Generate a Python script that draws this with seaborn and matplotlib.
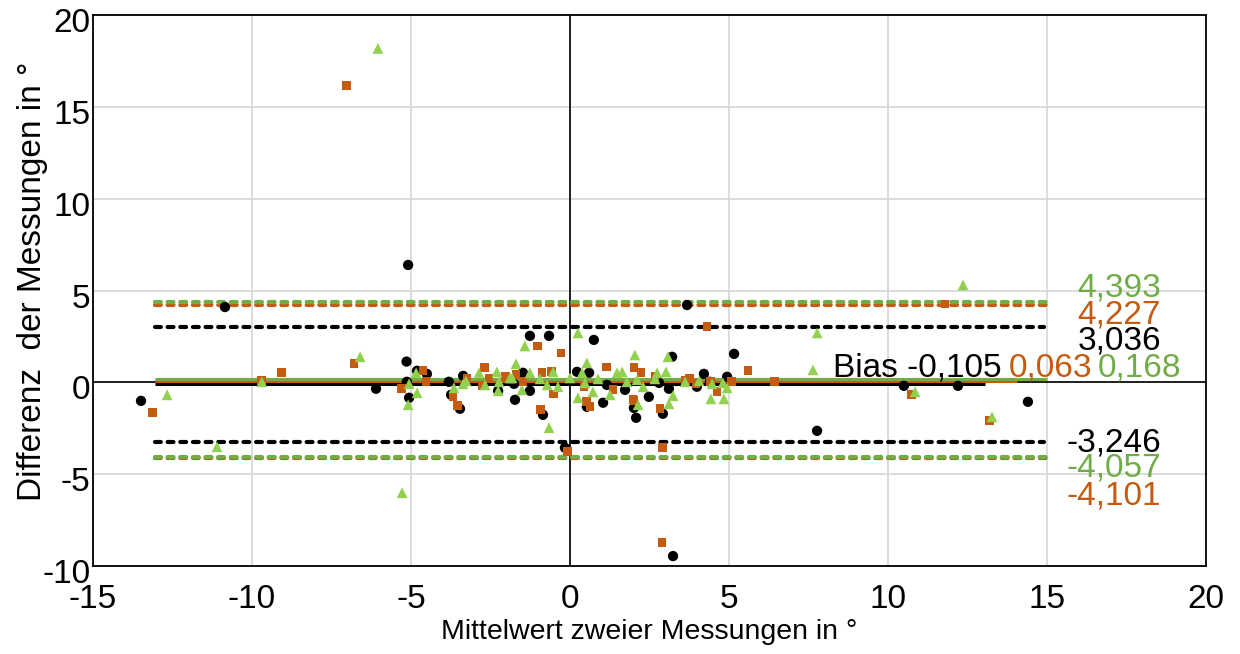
import numpy as np
import pandas as pd
import matplotlib
matplotlib.use("Agg")
import matplotlib.pyplot as plt
import matplotlib.transforms as mtransforms
import seaborn as sns

# ---- data ----
black_x = [-10.85, -13.49, -6.10, -5.09, -5.14, -5.06, -4.81, -4.50, -5.13, -3.81, -3.74, -3.46, -3.36,
           -2.26, -1.73, -1.76, -1.26, -0.66, 0.75, -1.48, -1.26, -0.85, 0.22, 0.60, 0.53, 1.04, 1.16,
           1.73, 2.08, 2.01, -0.16, 3.21, 5.16, 4.21, 4.94, 4.40, 3.99, 3.11, 2.48, 2.92, 2.80, 3.68,
           7.77, 10.50, 12.20, 14.40, 3.24]
black_y = [4.10, -1.01, -0.35, 6.39, 1.13, -0.84, 0.63, 0.46, 0.03, 0.03, -0.68, -1.44, 0.35,
           -0.46, -0.95, -0.08, 2.53, 2.53, 2.31, 0.52, -0.46, -1.77, 0.57, 0.52, -1.33, -1.11, -0.14,
           -0.41, -1.93, -1.39, -3.56, 1.39, 1.55, 0.46, 0.30, 0.03, -0.24, -0.35, -0.79, -1.71, -0.03, 4.21,
           -2.64, -0.19, -0.19, -1.06, -9.46]

orange_x = [-7.04, -13.14, -9.06, -6.79, -9.69, -5.31, -4.62, -4.53, -3.68, -3.55, -3.24, -2.70, -2.55,
            -2.74, -2.04, -1.70, -1.01, -0.28, -0.88, -0.57, -0.53, -0.94, -1.48, 1.16, 0.53, 0.63, 0.44,
            2.01, 2.01, 1.35, -0.09, 4.31, 2.23, 2.67, 3.77, 3.62, 3.96, 4.43, 4.62, 5.09, 5.60, 1.98,
            2.83, 2.92, 2.89, 6.42, 11.79, 10.75, 13.18]
orange_y = [16.17, -1.66, 0.52, 1.01, 0.08, -0.35, 0.63, 0.03, -0.79, -1.28, 0.19, 0.79, 0.19,
            -0.19, 0.30, 0.41, 1.98, 1.60, 0.52, 0.57, -0.63, -1.49, 0.03, 0.84, -1.06, -1.33, -0.24,
            0.79, -1.01, -0.41, -3.78, 3.02, 0.52, 0.30, 0.24, 0.08, -0.08, 0.03, -0.52, 0.03, 0.63, -0.95,
            -1.44, -3.56, -8.74, 0.03, 4.27, -0.68, -2.09]

green_x = [-6.04, -12.67, -9.69, -6.60, -11.10, -5.28, -5.06, -4.84, -4.81, -5.09, -3.65, -3.36, -3.27,
           -2.86, -2.67, -2.30, -2.23, -2.26, -1.82, -1.70, 0.25, -1.42, 2.04, 0.53, -0.66, -1.26, -0.53,
           -0.94, -1.51, -0.72, -0.38, 0.00, 0.38, 0.47, 0.72, 0.25, 0.88, 1.26, 1.48, 1.64, 1.79, 2.11,
           -1.89, 2.14, 3.08, 3.02, 2.74, 2.30, 3.62, 4.06, 4.47, 4.81, 4.94, 3.24, 3.11, 4.43, 4.84, 2.67,
           7.77, 7.64, 12.36, 10.85, 13.27]
green_y = [18.18, -0.68, 0.03, 1.39, -3.51, -6.01, -0.08, 0.52, -0.57, -1.22, -0.30, -0.08, 0.08,
           0.52, -0.14, 0.57, 0.03, -0.46, 0.24, 1.01, 2.69, 1.98, 1.49, 1.06, -2.47, 0.52, 0.57,
           0.19, -0.41, -0.14, -0.24, 0.24, 0.52, -0.03, -0.52, -0.84, 0.19, -0.68, 0.52, 0.57, 0.03, 0.14,
           0.24, -1.22, 1.39, 0.57, 0.52, -0.24, 0.03, 0.08, -0.08, -0.03, -0.30, -0.73, -1.17, -0.90, -0.90, 0.19,
           2.69, 0.68, 5.30, -0.52, -1.88]

# bias and limits of agreement
bias = {"black": -0.105, "orange": 0.063, "green": 0.168}
loa_upper = {"black": 3.036, "orange": 4.227, "green": 4.393}
loa_lower = {"black": -3.246, "orange": -4.101, "green": -4.057}
bias_labels = {"black": "Bias -0,105", "orange": "0,063", "green": "0,168"}
upper_labels = {"black": "3,036", "orange": "4,227", "green": "4,393"}
lower_labels = {"black": "-3,246", "orange": "-4,101", "green": "-4,057"}
line_start = -13.05
bias_end = {"black": 13.05, "orange": 14.06, "green": 15.0}
loa_end = {"black": 14.9, "orange": 15.0, "green": 15.0}

x_ticks = [-15, -10, -5, 0, 5, 10, 15, 20]
y_ticks = [-10, -5, 0, 5, 10, 15, 20]

# ---- style ----
sns.set_theme(style="white")
plt.rcParams["font.family"] = ["Liberation Sans", "DejaVu Sans"]
plt.rcParams["lines.scale_dashes"] = False
plt.rcParams["axes.unicode_minus"] = False

marker_col = {"black": "#000000", "orange": "#c55a11", "green": "#92d050"}
line_col = {"black": "#000000", "orange": "#c55a11", "green": "#70ad47"}
text_col = {"black": "#000000", "orange": "#c55a11", "green": "#70ad47"}

fig = plt.figure(figsize=(12.4, 6.54), dpi=100)
ax = fig.add_axes([93/1240, 1-566/654, (1206-93)/1240, (566-15)/654])

ax.set_xlim(-15, 20)
ax.set_ylim(-10, 20)
ax.set_xticks(x_ticks)
ax.set_yticks(y_ticks)
ax.grid(True, color="#d9d9d9", lw=1.3)
ax.set_axisbelow(True)
for s in ax.spines.values():
    s.set_color("black")
    s.set_linewidth(1.3)
ax.axhline(0, color="black", lw=1.2, zorder=1)
ax.axvline(0, color="black", lw=1.2, zorder=1)

# limit lines
for key in ["black", "orange", "green"]:
    for val in (loa_upper[key], loa_lower[key]):
        ax.hlines(val, line_start, loa_end[key], colors=line_col[key], lw=3.0,
                  linestyles=(0, (4.2, 4.9)), capstyle="round", zorder=2)
for key in ["black", "orange", "green"]:
    ax.hlines(bias[key], line_start, bias_end[key], colors=line_col[key], lw=2.2, zorder=2)

# scatter
df_b = pd.DataFrame({"x": black_x, "y": black_y})
df_o = pd.DataFrame({"x": orange_x, "y": orange_y})
df_g = pd.DataFrame({"x": green_x, "y": green_y})
sns.scatterplot(data=df_b, x="x", y="y", ax=ax, marker="o", s=55, color=marker_col["black"],
                edgecolor="none", zorder=3)
sns.scatterplot(data=df_o, x="x", y="y", ax=ax, marker="s", s=40, color=marker_col["orange"],
                edgecolor="none", zorder=4)
sns.scatterplot(data=df_g, x="x", y="y", ax=ax, marker="^", s=60, color=marker_col["green"],
                edgecolor="none", zorder=5)

fs = 24
# labels for limits
ax.text(18.58, 4.65, upper_labels["green"], color=text_col["green"], fontsize=fs, ha="right", va="baseline")
ax.text(18.58, 3.23, upper_labels["orange"], color=text_col["orange"], fontsize=fs, ha="right", va="baseline")
ax.text(18.58, 1.77, upper_labels["black"], color=text_col["black"], fontsize=fs, ha="right", va="baseline")
ax.text(13.58, 0.30, bias_labels["black"], color=text_col["black"], fontsize=fs, ha="right", va="baseline", zorder=6)
ax.text(16.42, 0.30, bias_labels["orange"], color=text_col["orange"], fontsize=fs, ha="right", va="baseline", zorder=6)
ax.text(19.21, 0.30, bias_labels["green"], color=text_col["green"], fontsize=fs, ha="right", va="baseline", zorder=6)
ax.text(18.58, -3.78, lower_labels["black"], color=text_col["black"], fontsize=fs, ha="right", va="baseline")
ax.text(18.58, -5.14, lower_labels["green"], color=text_col["green"], fontsize=fs, ha="right", va="baseline")
ax.text(18.58, -6.66, lower_labels["orange"], color=text_col["orange"], fontsize=fs, ha="right", va="baseline")

ax.tick_params(axis="both", labelsize=fs, colors="black", length=0)
ax.tick_params(axis="x", pad=13)
ax.tick_params(axis="y", pad=2)
offset = mtransforms.ScaledTranslation(0, -5/100, fig.dpi_scale_trans)
for lab in ax.get_yticklabels():
    lab.set_transform(lab.get_transform() + offset)

ax.set_xlabel("Mittelwert zweier Messungen in °", fontsize=20.5, color="black")
ax.xaxis.set_label_coords(0.5, (566-619)/551)
ax.set_ylabel("Differenz  der Messungen in °", fontsize=24, color="black")
ax.yaxis.set_label_coords((48-93)/1113, (566-281)/551)

fig.savefig("out.png", dpi=100)
